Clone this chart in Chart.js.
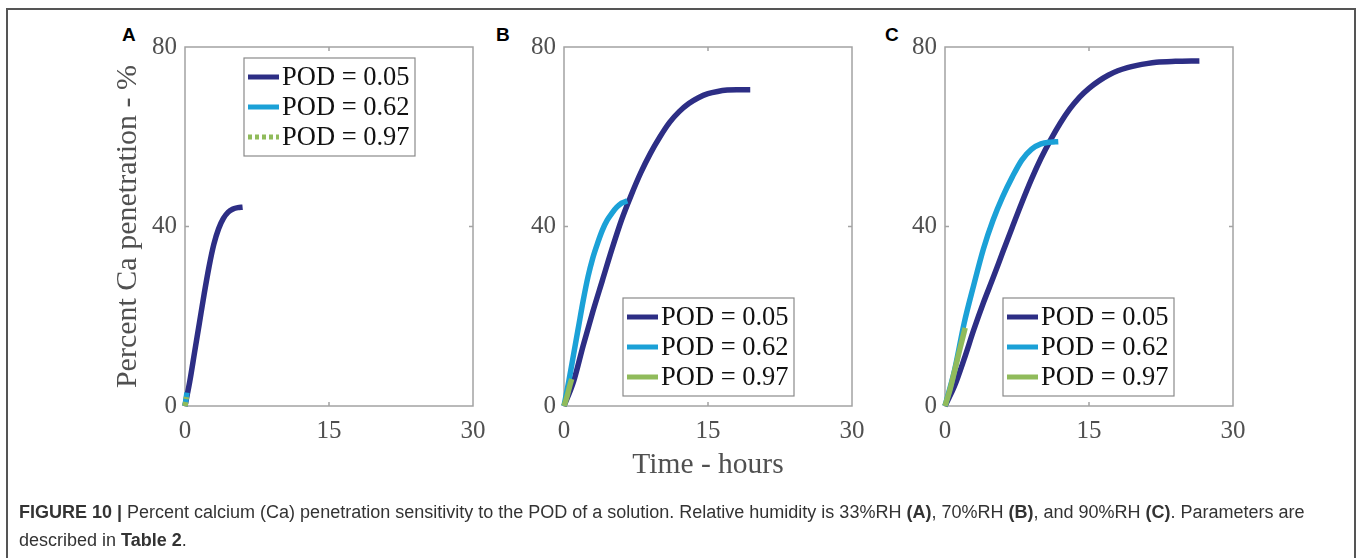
<!DOCTYPE html>
<html>
<head>
<meta charset="utf-8">
<script src="https://cdn.jsdelivr.net/npm/chart.js@4/dist/chart.umd.min.js"></script>
<style>
body{margin:0;width:1357px;height:558px;background:#fff;overflow:hidden;position:relative;font-family:"Liberation Sans",Arial,sans-serif}
#frame{position:absolute;left:6px;top:8px;width:1346px;height:600px;border:2px solid #555}
.panel{position:absolute;top:20px;width:400px;height:480px}
.tag{position:absolute;top:24px;font:bold 19px "Liberation Sans",Arial,sans-serif;color:#000}
#caption{position:absolute;left:19px;top:498px;font-size:18px;line-height:28px;color:#333;white-space:nowrap}
</style>
</head>
<body>
<div id="frame"></div>
<div class="tag" style="left:122px">A</div>
<div class="tag" style="left:496px">B</div>
<div class="tag" style="left:885px">C</div>
<div class="panel" style="left:100px"><canvas id="chartA"></canvas></div>
<div class="panel" style="left:479px"><canvas id="chartB"></canvas></div>
<div class="panel" style="left:860px"><canvas id="chartC"></canvas></div>
<div id="caption"><b>FIGURE 10 |</b> Percent calcium (Ca) penetration sensitivity to the POD of a solution. Relative humidity is 33%RH <b>(A)</b>, 70%RH <b>(B)</b>, and 90%RH <b>(C)</b>. Parameters are<br>described in <b>Table 2</b>.</div>

<script>
// series labels
const seriesLabels = ['POD = 0.05', 'POD = 0.62', 'POD = 0.97'];
const xTicks = [0, 15, 30];
const yTicks = [0, 40, 80];

// panel A - 33%RH
const tA1 = [0, 0.5, 1, 1.5, 2, 2.5, 3, 3.5, 4, 4.5, 5, 5.5, 6];
const yA1 = [0, 5.5, 12, 18.5, 25, 31, 36, 39.5, 41.8, 43.2, 43.9, 44.2, 44.3];
const tA2 = [0, 0.1, 0.2];
const yA2 = [0, 1.5, 3];
const tA3 = [0, 0.08, 0.15];
const yA3 = [0, 1, 2];

// panel B - 70%RH
const tB1 = [0, 1, 2, 3, 4, 5, 6, 7, 8, 9, 10, 11, 12, 13, 14, 15, 16, 17, 18, 19.4];
const yB1 = [0, 5.5, 13.5, 21, 28, 35, 41.5, 47, 52, 56.3, 60, 63.2, 65.6, 67.4, 68.7, 69.6, 70.1, 70.4, 70.5, 70.5];
const tB2 = [0, 0.5, 1, 1.5, 2, 2.5, 3, 3.5, 4, 4.5, 5, 5.5, 6, 6.6];
const yB2 = [0, 5.5, 11.5, 17.5, 23.5, 28.8, 33, 36.3, 39.2, 41.4, 43, 44.3, 45.2, 45.7];
const tB3 = [0, 0.3, 0.6, 0.8];
const yB3 = [0, 2, 4.5, 6];

// panel C - 90%RH
const tC1 = [0, 1, 2, 3, 4, 5, 6, 7, 8, 9, 10, 11, 12, 13, 14, 15, 16, 17, 18, 19, 20, 21, 22, 24, 26.5];
const yC1 = [0, 4.5, 10.5, 17, 23, 28.5, 34.2, 39.8, 45.3, 50.5, 55.2, 59.3, 63, 66.2, 68.8, 70.8, 72.4, 73.7, 74.7, 75.4, 75.9, 76.3, 76.6, 76.8, 76.9];
const tC2 = [0, 1, 2, 3, 4, 5, 6, 7, 8, 9, 10, 11, 11.8];
const yC2 = [0, 8, 18.5, 27, 35, 41.4, 46.6, 51, 54.8, 57.2, 58.4, 58.8, 58.9];
const tC3 = [0, 0.5, 1, 1.5, 2.1];
const yC3 = [0, 3.5, 7.8, 12.3, 17.4];

const colors = ['#2d2e85', '#1ba1d7', '#90bb5b'];
const serif = '"Liberation Serif", "Times New Roman", serif';

function pts(t, y) {
    return t.map((v, i) => ({x: v, y: y[i]}));
}

// axes box, inward ticks and legend box
const boxPlugin = {
    id: 'box',
    beforeDatasetsDraw(chart) {
        const a = chart.chartArea;
        const ctx = chart.ctx;
        const xs = chart.scales.x, ys = chart.scales.y;
        ctx.save();
        ctx.strokeStyle = '#a3a3a3';
        ctx.lineWidth = 1.5;
        ctx.strokeRect(a.left, a.top, a.right - a.left, a.bottom - a.top);
        ctx.beginPath();
        const xm = xs.getPixelForValue(15);
        ctx.moveTo(xm, a.bottom); ctx.lineTo(xm, a.bottom - 4);
        ctx.moveTo(xm, a.top); ctx.lineTo(xm, a.top + 4);
        const ym = ys.getPixelForValue(40);
        ctx.moveTo(a.left, ym); ctx.lineTo(a.left + 4, ym);
        ctx.moveTo(a.right, ym); ctx.lineTo(a.right - 4, ym);
        ctx.stroke();
        ctx.restore();
    },
    afterDraw(chart, args, opts) {
        const a = chart.chartArea;
        const ctx = chart.ctx;
        const bx = a.left + opts.dx, by = a.top + opts.dy;
        ctx.save();
        ctx.fillStyle = '#fff';
        ctx.fillRect(bx, by, 171, 98);
        ctx.strokeStyle = '#8a8a8a';
        ctx.lineWidth = 1.2;
        ctx.strokeRect(bx, by, 171, 98);
        chart.data.datasets.forEach((ds, i) => {
            const ry = by + 19 + i * 30;
            ctx.beginPath();
            ctx.strokeStyle = ds.borderColor;
            ctx.lineWidth = 5;
            ctx.setLineDash(ds.borderDash || []);
            ctx.moveTo(bx + 4, ry);
            ctx.lineTo(bx + 35, ry);
            ctx.stroke();
            ctx.setLineDash([]);
            ctx.fillStyle = '#111';
            ctx.font = '26.5px ' + serif;
            ctx.textBaseline = 'middle';
            ctx.fillText(ds.label, bx + 38, ry + 1);
        });
        ctx.restore();
    }
};

function makeChart(id, series, legendPos, showY, showX, dashLast) {
    const datasets = series.map((s, i) => ({
        label: seriesLabels[i],
        data: pts(s[0], s[1]),
        borderColor: colors[i],
        borderWidth: 5.5,
        borderDash: (dashLast && i == 2) ? [4, 3] : undefined,
        pointRadius: 0,
        tension: 0.4,
        cubicInterpolationMode: 'monotone',
        fill: false,
        clip: 8
    }));
    // draw the light series on top like in the figure
    datasets.forEach((d, i) => d.order = 3 - i);

    new Chart(document.getElementById(id), {
        type: 'line',
        data: {datasets: datasets},
        options: {
            responsive: true,
            maintainAspectRatio: false,
            animation: false,
            layout: {padding: {top: 27, right: 27, left: 0, bottom: 0}},
            plugins: {
                legend: {display: false},
                tooltip: {enabled: false},
                box: legendPos
            },
            scales: {
                x: {
                    type: 'linear',
                    min: 0, max: 30,
                    afterBuildTicks: (s) => { s.ticks = xTicks.map(v => ({value: v})); },
                    afterFit: (s) => { s.height = 94; },
                    grid: {display: false, drawTicks: false},
                    border: {display: false},
                    ticks: {color: '#505050', padding: 10, maxRotation: 0, font: {family: serif, size: 25}},
                    title: {display: showX, text: 'Time - hours', color: '#505050',
                        font: {family: serif, size: 29.5}, padding: {bottom: 17, top: 0}}
                },
                y: {
                    min: 0, max: 80,
                    afterBuildTicks: (s) => { s.ticks = yTicks.map(v => ({value: v})); },
                    afterFit: (s) => { s.width = 85; },
                    grid: {display: false, drawTicks: false},
                    border: {display: false},
                    ticks: {color: '#505050', padding: 8, font: {family: serif, size: 25}},
                    title: {display: showY, text: 'Percent Ca penetration - %', color: '#505050',
                        font: {family: serif, size: 30}, padding: {top: 10, bottom: 0}}
                }
            }
        },
        plugins: [boxPlugin]
    });
}

makeChart('chartA', [[tA1, yA1], [tA2, yA2], [tA3, yA3]], {dx: 59, dy: 11}, true, false, true);
makeChart('chartB', [[tB1, yB1], [tB2, yB2], [tB3, yB3]], {dx: 59, dy: 251}, false, true, false);
makeChart('chartC', [[tC1, yC1], [tC2, yC2], [tC3, yC3]], {dx: 58, dy: 251}, false, false, false);
</script>
</body>
</html>
